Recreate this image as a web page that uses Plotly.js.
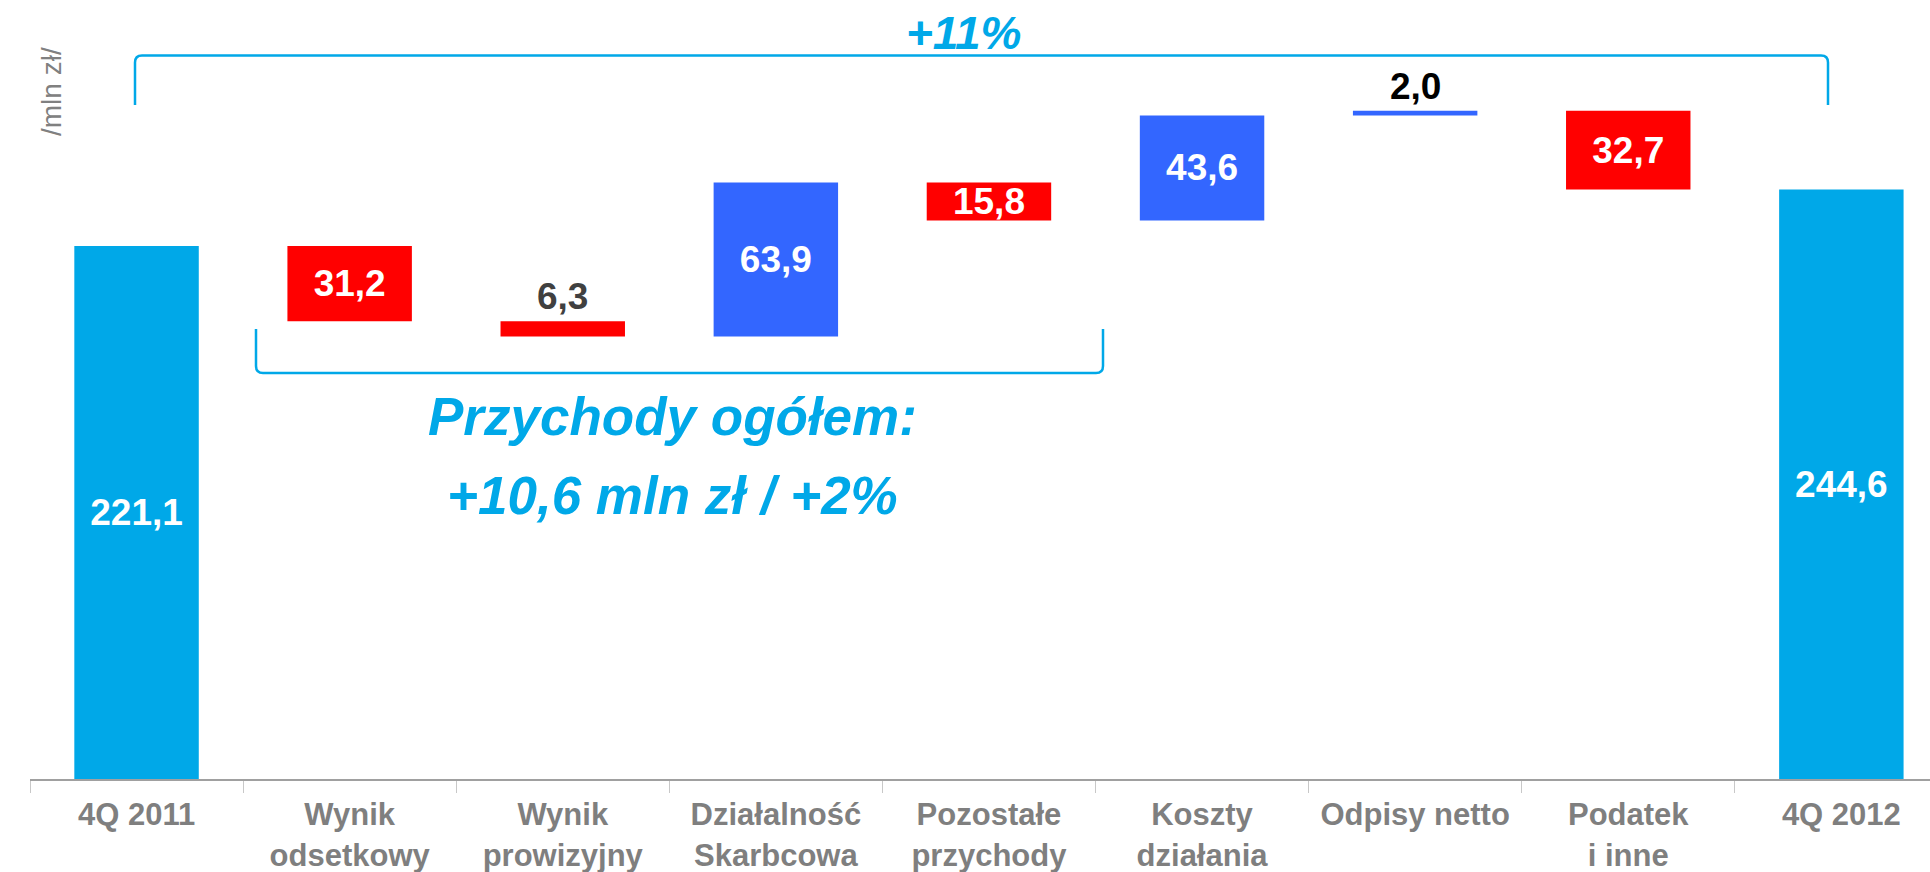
<!DOCTYPE html>
<html>
<head>
<meta charset="utf-8">
<script src="https://cdn.plot.ly/plotly-3.0.1.min.js"></script>
<style>html,body{margin:0;padding:0;background:#fff;}#chart{width:1930px;height:872px;}</style>
</head>
<body>
<div id="chart"></div>
<script>
// ---- data ----
const categories = ["4Q 2011", "Wynik<br>odsetkowy", "Wynik<br>prowizyjny", "Działalność<br>Skarbcowa",
  "Pozostałe<br>przychody", "Koszty<br>działania", "Odpisy netto", "Podatek<br>i inne", "4Q 2012"];
const measures = ["absolute", "relative", "relative", "relative", "relative", "relative", "relative", "relative", "total"];
const values = [221.1, -31.2, -6.3, 63.9, -15.8, 43.6, 2.0, -32.7, 244.6];
const outsideLabelIdx = [2, 6];
const outsideLabelColors = ["#404040", "#000000"];
const yTitle = "/mln zł/";
const topNote = "+11%";
const revenueNote1 = "Przychody ogółem:";
const revenueNote2 = "+10,6 mln zł / +2%";

// ---- derived ----
const fmt = v => Math.abs(v).toFixed(1).replace('.', ',');
let cum = 0; const tops = [];
values.forEach((v, i) => {
  let start, end;
  if (measures[i] === 'absolute') { start = 0; end = v; cum = v; }
  else if (measures[i] === 'total') { start = 0; end = cum; }
  else { start = cum; end = cum + v; cum = end; }
  tops.push(Math.max(start, end));
});
const labelText = values.map((v, i) => measures[i] === 'total' ? fmt(cum) : fmt(v));
const textpos = values.map((v, i) => outsideLabelIdx.includes(i) ? 'none' : 'inside');

const FONT = "Liberation Sans, Arial, sans-serif";
const CYAN = "#00A8E8";
const LABEL_SIZE = 37;

// pixel -> paper helpers (plot area: x 30..1930, y 0..779)
const L = 30, W = 1900, B = 779;
const px = X => (X - L) / W;
const py = Y => (B - Y) / B;

const traces = [{
  type: 'waterfall',
  x: categories,
  y: values,
  measure: measures,
  text: labelText,
  textposition: textpos,
  insidetextanchor: 'middle',
  textangle: 0,
  constraintext: 'none',
  insidetextfont: {family: FONT, size: LABEL_SIZE, color: '#FFFFFF', weight: 'bold'},
  textfont: {family: FONT, size: LABEL_SIZE, color: '#FFFFFF', weight: 'bold'},
  increasing: {marker: {color: '#3366FF'}},
  decreasing: {marker: {color: '#FF0000'}},
  totals: {marker: {color: CYAN}},
  connector: {visible: false},
  hoverinfo: 'skip',
  cliponaxis: false
}];

function bracketDown(x1, x2, yTop, yEnd, r) {
  return `M ${px(x1)},${py(yEnd)} L ${px(x1)},${py(yTop + r)} Q ${px(x1)},${py(yTop)} ${px(x1 + r)},${py(yTop)} ` +
         `L ${px(x2 - r)},${py(yTop)} Q ${px(x2)},${py(yTop)} ${px(x2)},${py(yTop + r)} L ${px(x2)},${py(yEnd)}`;
}
function bracketUp(x1, x2, yBot, yEnd, r) {
  return `M ${px(x1)},${py(yEnd)} L ${px(x1)},${py(yBot - r)} Q ${px(x1)},${py(yBot)} ${px(x1 + r)},${py(yBot)} ` +
         `L ${px(x2 - r)},${py(yBot)} Q ${px(x2)},${py(yBot)} ${px(x2)},${py(yBot - r)} L ${px(x2)},${py(yEnd)}`;
}

const outsideAnns = outsideLabelIdx.map((idx, k) => ({
  text: labelText[idx], xref: 'x', yref: 'y', x: categories[idx], y: tops[idx],
  xanchor: 'center', yanchor: 'bottom', yshift: 2, showarrow: false,
  font: {family: FONT, size: LABEL_SIZE, color: outsideLabelColors[k], weight: 'bold'}
}));

const layout = {
  width: 1930, height: 872,
  margin: {l: L, r: 0, t: 0, b: 872 - B},
  paper_bgcolor: '#FFFFFF', plot_bgcolor: '#FFFFFF',
  showlegend: false,
  waterfallgap: 0.416,
  font: {family: FONT},
  xaxis: {
    type: 'category',
    range: [-0.5, 8.416],
    showline: true, linecolor: '#A0A0A0', linewidth: 2,
    ticks: 'outside', tickson: 'boundaries', ticklen: 12, tickcolor: '#C8C8C8', tickwidth: 1,
    ticklabelstandoff: 7,
    tickfont: {family: FONT, size: 31, color: '#7F7F7F', weight: 'bold'},
    showgrid: false, zeroline: false, fixedrange: true
  },
  yaxis: {
    range: [0, 323.2],
    visible: false, showgrid: false, zeroline: false, fixedrange: true
  },
  shapes: [
    {type: 'path', xref: 'paper', yref: 'paper', path: bracketDown(135, 1828, 55.5, 105, 7),
     line: {color: CYAN, width: 2.5}},
    {type: 'path', xref: 'paper', yref: 'paper', path: bracketUp(256, 1103, 373, 329, 7),
     line: {color: CYAN, width: 2.5}}
  ],
  annotations: [
    {text: yTitle, xref: 'paper', yref: 'paper', x: px(52), y: py(92), textangle: -90, showarrow: false,
     font: {family: FONT, size: 28, color: '#808080'}, xanchor: 'center', yanchor: 'middle'},
    {text: topNote, xref: 'paper', yref: 'paper', x: px(964), y: py(33), showarrow: false,
     font: {family: FONT, size: 46, color: CYAN, weight: 'bold', style: 'italic'}, xanchor: 'center', yanchor: 'middle'},
    {text: revenueNote1, xref: 'paper', yref: 'paper', x: px(672), y: py(416), showarrow: false,
     font: {family: FONT, size: 53, color: CYAN, weight: 'bold', style: 'italic'}, xanchor: 'center', yanchor: 'middle'},
    {text: revenueNote2, xref: 'paper', yref: 'paper', x: px(672), y: py(495), showarrow: false,
     font: {family: FONT, size: 53, color: CYAN, weight: 'bold', style: 'italic'}, xanchor: 'center', yanchor: 'middle'}
  ].concat(outsideAnns)
};

Plotly.newPlot('chart', traces, layout, {staticPlot: true, displayModeBar: false});
</script>
</body>
</html>
